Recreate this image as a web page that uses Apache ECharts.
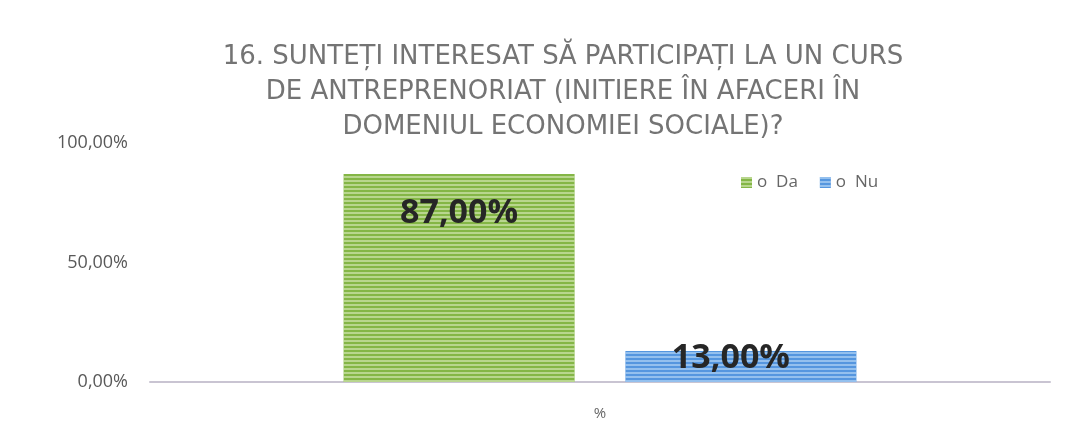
<!DOCTYPE html>
<html>
<head>
<meta charset="utf-8">
<script src="https://cdn.jsdelivr.net/npm/echarts@6/dist/echarts.min.js"></script>
<style>
  html, body { margin: 0; padding: 0; background: #fff; }
  #chart { width: 1066px; height: 421px; }
</style>
</head>
<body>
<div id="chart"></div>
<script>
// datele graficului
var categories = ['%'];
var seriesNames = ['o  Da', 'o  Nu'];
var daValues = [87];
var nuValues = [13];
var yTicks = [0, 50, 100];

var chart = echarts.init(document.getElementById('chart'));

function fmt(v) {
    return v.toFixed(2).replace('.', ',') + '%';
}

// dungi orizontale peste bare
function stripes(c) {
    return {
        symbol: 'rect',
        color: c,
        dashArrayX: [1, 0],
        dashArrayY: [2, 2],
        rotation: 0
    };
}

var option = {
    aria: { enabled: false },
    title: {
        text: '16. SUNTEȚI INTERESAT SĂ PARTICIPAȚI LA UN CURS\nDE ANTREPRENORIAT (INITIERE ÎN AFACERI ÎN\nDOMENIUL ECONOMIEI SOCIALE)?',
        left: 558,
        top: 35,
        textAlign: 'center',
        textStyle: {
            fontFamily: 'DejaVu Sans',
            fontSize: 26,
            fontWeight: 'normal',
            color: '#747474',
            lineHeight: 35
        }
    },
    legend: {
        data: seriesNames,
        left: 736,
        top: 169,
        itemWidth: 11,
        itemHeight: 11,
        itemGap: 22,
        icon: 'rect',
        textStyle: { fontFamily: 'Open Sans', fontSize: 17, color: '#666' }
    },
    grid: { left: 150, right: 16, top: 143, bottom: 37 },
    xAxis: {
        type: 'category',
        data: categories,
        axisLine: { lineStyle: { color: '#c9c4d2', width: 2 } },
        axisTick: { show: false },
        axisLabel: { fontFamily: 'Open Sans', fontSize: 15, color: '#666', margin: 24 }
    },
    yAxis: {
        type: 'value',
        min: yTicks[0],
        max: yTicks[yTicks.length - 1],
        interval: 50,
        splitLine: { show: false },
        axisLine: { show: false },
        axisTick: { show: false },
        axisLabel: {
            fontFamily: 'Open Sans',
            fontSize: 18,
            color: '#595959',
            margin: 22,
            formatter: fmt
        }
    },
    series: [
        {
            name: seriesNames[0],
            type: 'bar',
            data: daValues,
            barWidth: 231,
            barGap: '22%',
            itemStyle: {
                color: '#84b646',
                decal: stripes('rgba(225,240,200,0.55)')
            },
            label: {
                show: true,
                position: 'insideTop',
                distance: 22,
                formatter: function (p) { return fmt(p.value); },
                fontFamily: 'Open Sans',
                fontSize: 34,
                fontWeight: 'bold',
                color: '#262626'
            }
        },
        {
            name: seriesNames[1],
            type: 'bar',
            data: nuValues,
            barWidth: 231,
            itemStyle: {
                color: '#5596df',
                decal: stripes('rgba(200,225,250,0.55)')
            },
            label: {
                show: true,
                position: 'top',
                distance: -24,
                offset: [-10, 0],
                formatter: function (p) { return fmt(p.value); },
                fontFamily: 'Open Sans',
                fontSize: 34,
                fontWeight: 'bold',
                color: '#262626'
            }
        }
    ]
};

chart.setOption(option);
</script>
</body>
</html>
